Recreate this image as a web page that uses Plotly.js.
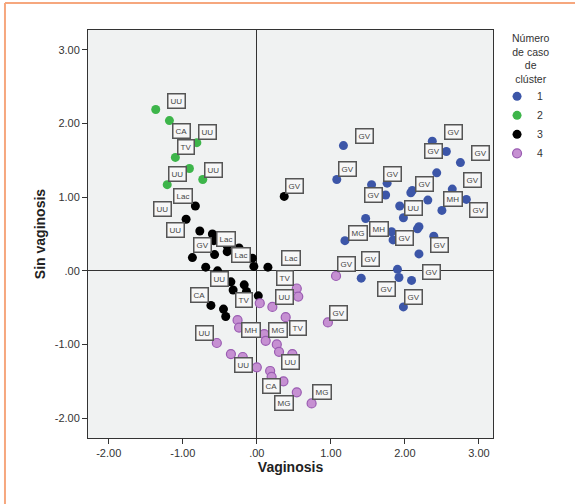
<!DOCTYPE html>
<html>
<head>
<meta charset="utf-8">
<script src="https://cdn.plot.ly/plotly-3.0.1.min.js"></script>
<style>html,body{margin:0;padding:0;background:#fff;}#chart{width:575px;height:504px;}</style>
</head>
<body>
<div id="chart"></div>
<script>
// ---- Data ----
const clusterNames = ["1", "2", "3", "4"];
const legendTitle = "Número<br>de caso<br>de<br>clúster";

const c1x = [1.17, 2.37, 2.56, 2.75, 1.08, 2.43, 1.55, 1.76, 2.10, 2.08, 1.74, 2.64, 2.83, 2.31, 1.93, 2.50, 1.98, 1.47, 2.19, 2.17, 1.82, 2.39, 1.19, 1.84, 2.19, 1.90, 1.41, 1.92, 2.09, 1.98];
const c1y = [1.70, 1.76, 1.62, 1.47, 1.24, 1.33, 1.17, 1.19, 1.09, 1.06, 1.03, 1.11, 0.97, 0.96, 0.88, 0.82, 0.72, 0.71, 0.60, 0.57, 0.53, 0.47, 0.41, 0.42, 0.23, 0.02, -0.10, -0.09, -0.13, -0.49];

const c2x = [-1.365, -1.18, -0.81, -1.10, -0.91, -0.73, -1.21];
const c2y = [2.19, 2.04, 1.74, 1.54, 1.39, 1.24, 1.17];

const c3x = [-0.83, -0.955, -0.77, -0.60, -0.58, -0.40, -0.24, -0.40, -0.57, -0.87, -0.06, -0.04, 0.15, -0.69, -0.53, -0.35, -0.17, -0.32, -0.14, 0.02, -0.62, -0.45, -0.42, 0.37];
const c3y = [0.88, 0.70, 0.54, 0.50, 0.41, 0.34, 0.31, 0.26, 0.22, 0.18, 0.17, 0.06, 0.05, 0.05, 0.00, -0.15, -0.19, -0.26, -0.28, -0.34, -0.47, -0.52, -0.62, 1.01];

const c4x = [1.07, 0.54, 0.56, 0.04, 0.21, 0.39, 0.96, -0.26, -0.24, 0.10, 0.12, -0.54, 0.27, 0.30, 0.48, -0.35, -0.19, 0.00, 0.18, 0.20, 0.36, 0.54, 0.74];
const c4y = [-0.07, -0.24, -0.35, -0.44, -0.49, -0.63, -0.70, -0.67, -0.77, -0.86, -0.95, -0.98, -1.00, -1.10, -1.13, -1.13, -1.17, -1.31, -1.36, -1.44, -1.50, -1.65, -1.80];

// case labels
const labelText = ["UU","CA","UU","TV","UU","UU","Lac","UU","UU","GV","Lac","Lac","GV","Lac","UU","CA","TV","TV","UU","MH","MG","TV","UU","UU","UU","CA","MG","MG","GV",
  "GV","GV","GV","GV","GV","GV","GV","GV","GV","MH","UU","GV","MG","MH","GV","GV","GV","GV","GV","GV","GV"];
const labelX = [-1.085,-1.02,-0.66,-0.96,-1.07,-0.585,-1.00,-1.27,-1.095,-0.74,-0.42,-0.21,0.51,0.455,-0.51,-0.78,-0.17,0.38,0.37,-0.08,0.29,0.56,-0.71,-0.18,0.45,0.20,0.37,0.88,1.10,
  1.45,2.65,2.38,3.02,1.22,1.83,2.26,2.91,1.57,2.645,2.12,3.00,1.37,1.645,2.00,2.47,1.54,1.21,2.36,1.75,2.11];
const labelY = [2.31,1.90,1.88,1.68,1.31,1.37,1.02,0.84,0.56,0.35,0.43,0.21,1.15,0.17,-0.11,-0.33,-0.40,-0.10,-0.35,-0.80,-0.81,-0.78,-0.84,-1.28,-1.24,-1.57,-1.80,-1.65,-0.57,
  1.83,1.89,1.63,1.60,1.38,1.31,1.18,1.24,1.03,0.97,0.85,0.82,0.51,0.565,0.45,0.35,0.16,0.09,-0.01,-0.24,-0.36];

const tickVals = [-2, -1, 0, 1, 2, 3];
const tickText = ["-2.00", "-1.00", ".00", "1.00", "2.00", "3.00"];

// ---- Styles ----
const fillColors = ["#3c56a8", "#3db54a", "#000000", "#c690d2"];
const lineColors = ["#3c56a8", "#3db54a", "#000000", "#9a5cb2"];
const xs = [c1x, c2x, c3x, c4x];
const ys = [c1y, c2y, c3y, c4y];

const traces = clusterNames.map((n, i) => ({
  type: "scatter", mode: "markers", name: n,
  x: xs[i], y: ys[i],
  marker: {size: 9, color: fillColors[i], line: {color: lineColors[i], width: i === 3 ? 1.2 : 0}},
  hoverinfo: "skip"
}));

const annotations = labelText.map((t, i) => ({
  x: labelX[i], y: labelY[i], xref: "x", yref: "y", text: t, showarrow: false,
  font: {family: "Liberation Sans, Arial, sans-serif", size: 8, color: "#444"},
  bgcolor: "#f7f7f7", bordercolor: "#555", borderwidth: 1.5, borderpad: 2
}));
annotations.push({
  xref: "paper", yref: "paper", x: 1.094, y: 0.93, xanchor: "center", yanchor: "middle",
  text: legendTitle, showarrow: false, align: "center",
  font: {family: "Liberation Sans, Arial, sans-serif", size: 10.5, color: "#333"}
});

const layout = {
  width: 575, height: 504,
  margin: {l: 88, r: 82, t: 30, b: 66},
  paper_bgcolor: "#ffffff", plot_bgcolor: "#f0f2f2",
  font: {family: "Liberation Sans, Arial, sans-serif", size: 11, color: "#333"},
  showlegend: true,
  legend: {
    x: 1.01, xanchor: "left", y: 0.873, yanchor: "top",
    bgcolor: "rgba(0,0,0,0)",
    font: {size: 10.5, color: "#333"}, itemwidth: 30, tracegroupgap: 0
  },
  xaxis: {
    range: [-2.28, 3.19], tickvals: tickVals, ticktext: tickText,
    ticks: "outside", ticklen: 5, tickcolor: "#333", showgrid: false,
    zeroline: true, zerolinecolor: "#333", zerolinewidth: 1,
    showline: true, linecolor: "#333", linewidth: 1, mirror: true,
    title: {text: "<b>Vaginosis</b>", font: {size: 14, color: "#222"}, standoff: 3}
  },
  yaxis: {
    range: [-2.27, 3.27], tickvals: tickVals, ticktext: tickText,
    ticks: "outside", ticklen: 5, tickcolor: "#333", showgrid: false,
    zeroline: true, zerolinecolor: "#333", zerolinewidth: 1,
    showline: true, linecolor: "#333", linewidth: 1, mirror: true,
    title: {text: "<b>Sin vaginosis</b>", font: {size: 14, color: "#222"}, standoff: 5}
  },
  annotations: annotations,
  shapes: [
    {type: "line", xref: "paper", yref: "paper", x0: -0.205, x1: 1.21, y0: 1.066, y1: 1.066, line: {color: "#f6a77e", width: 2}},
    {type: "line", xref: "paper", yref: "paper", x0: -0.205, x1: -0.205, y0: 1.066, y1: -0.17, line: {color: "#f6a77e", width: 2}}
  ]
};

Plotly.newPlot("chart", traces, layout, {displayModeBar: false, staticPlot: true});
</script>
</body>
</html>
